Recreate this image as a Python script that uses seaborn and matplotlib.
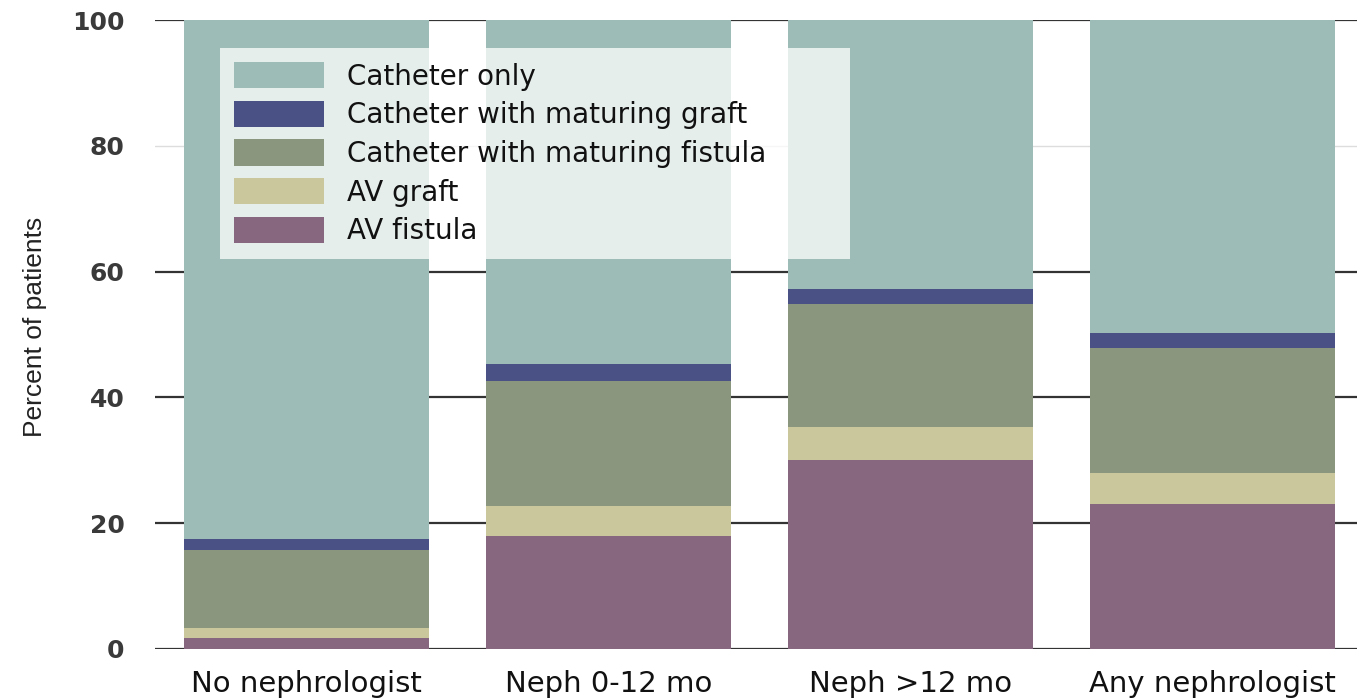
import numpy as np
import pandas as pd
import matplotlib
matplotlib.use("Agg")
import matplotlib.pyplot as plt
from matplotlib.patches import Patch
import seaborn as sns

categories = ["No nephrologist", "Neph 0-12 mo", "Neph >12 mo", "Any nephrologist"]
av_fistula = [1.7, 18.0, 30.0, 23.0]
av_graft = [1.7, 4.7, 5.3, 5.0]
cath_mat_fistula = [12.3, 19.9, 19.5, 19.9]
cath_mat_graft = [1.8, 2.7, 2.4, 2.4]
cath_only = [82.5, 54.7, 42.8, 49.7]

series_names = ["Catheter only", "Catheter with maturing graft",
                "Catheter with maturing fistula", "AV graft", "AV fistula"]
colors = ["#9ebcb7", "#4a5185", "#8a967e", "#c9c79b", "#87677f"]

sns.set_theme(style="white")
plt.rcParams['font.family'] = ['DejaVu Sans']

fig = plt.figure(figsize=(13.57, 7.0), dpi=100)
ax = fig.add_axes([155/1357, 51/700, 1209/1357, 629/700])

# stack order bottom -> top
stack = [av_fistula, av_graft, cath_mat_fistula, cath_mat_graft, cath_only]
stack_colors = colors[::-1]
cum = np.cumsum(np.array(stack), axis=0)

# draw from tallest cumulative (top) down so lower layers overlay
for i in range(len(stack) - 1, -1, -1):
    df = pd.DataFrame({"cat": categories, "val": cum[i]})
    sns.barplot(data=df, x="cat", y="val", color=stack_colors[i], ax=ax,
                width=0.81, saturation=1, edgecolor="none", linewidth=0, zorder=3)

ax.set_ylim(0, 100)
ax.set_xlim(-0.5, 3.5)
ax.set_yticks([0, 20, 40, 60, 80, 100])
ax.set_yticklabels(["0", "20", "40", "60", "80", "100"], fontsize=18,
                   fontweight="bold", color="#3a3a3a")
ax.set_xticks(range(4))
ax.set_xticklabels(categories, fontsize=21, color="#111111")
ax.tick_params(axis="y", length=0, pad=22)
ax.tick_params(axis="x", length=0, pad=15)
ax.set_xlabel("")
ax.set_ylabel("Percent of patients", fontsize=19, family=["Liberation Sans", "DejaVu Sans"],
              color="#222222")
ax.yaxis.set_label_coords(-0.089, 0.512)
for s in ax.spines.values():
    s.set_visible(False)
ax.yaxis.grid(True, color="#333333", linewidth=1.6, zorder=0)
ax.set_axisbelow(True)
gl = ax.get_ygridlines()
gl[4].set_color("#dddddd")
gl[4].set_linewidth(1.0)

handles = [Patch(facecolor=c, edgecolor="none") for c in colors]
leg = ax.legend(handles, series_names, loc="upper left",
                bbox_to_anchor=(0.054, 0.5, 0.521, 0.455), mode="expand",
                fontsize=20,
                frameon=True, fancybox=False, framealpha=0.75,
                facecolor="white", edgecolor="none",
                handlelength=3.25, handleheight=1.08, handletextpad=0.8,
                labelspacing=0.36, borderpad=0.5, borderaxespad=0)
leg.set_zorder(5)
for t in leg.get_texts():
    t.set_color("#111111")

fig.savefig("out.png", dpi=100)
